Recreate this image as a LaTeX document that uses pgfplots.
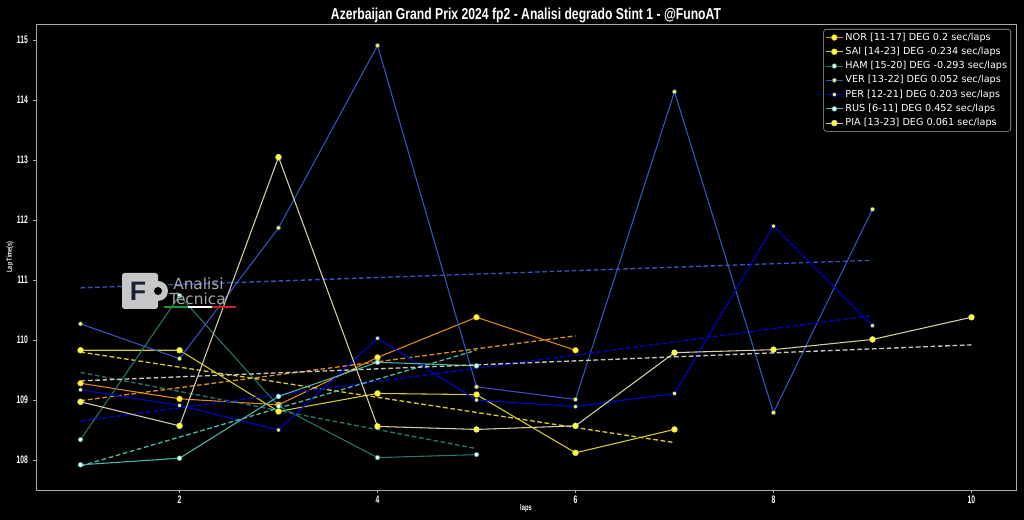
\documentclass[border=0pt]{standalone}
\usepackage{fontspec}
\setmainfont{DejaVu Sans}
\newfontfamily\condfont{Liberation Sans}
\usepackage{graphicx}
\usepackage{pgfplots}
\pgfplotsset{compat=1.18}
\definecolor{cNOR}{RGB}{222,140,32}
\definecolor{cSAI}{RGB}{214,204,44}
\definecolor{cHAM}{RGB}{38,118,108}
\definecolor{cVER}{RGB}{52,84,196}
\definecolor{cPER}{RGB}{0,0,210}
\definecolor{cRUS}{RGB}{72,184,168}
\definecolor{cPIA}{RGB}{214,206,166}
\definecolor{cPIAd}{RGB}{200,200,190}
\definecolor{myel}{RGB}{255,255,60}
\definecolor{mwht}{RGB}{230,255,250}
\definecolor{axgray}{RGB}{170,170,170}
\newcommand{\tk}[1]{\scalebox{0.62}[1]{\condfont\bfseries\fontsize{8.2}{9}\selectfont #1}}
\begin{document}
\begin{tikzpicture}
\fill[black] (0,0) rectangle (768pt,390pt);
\useasboundingbox (0,0) rectangle (768pt,390pt);
\begin{axis}[
  at={(27pt,22.5pt)}, anchor=south west,
  scale only axis, width=735pt, height=349.5pt,
  xmin=0.55, xmax=10.45, ymin=107.5, ymax=115.27,
  xtick={2,4,6,8,10}, ytick={108,109,110,111,112,113,114,115},
  axis background/.style={fill=black},
  axis line style={draw=axgray, line width=0.6pt},
  tick style={draw=axgray, line width=0.6pt},
  tick align=outside, major tick length=2.6pt, tick pos=left,
  xticklabel={\tk{\pgfmathprintnumber[assume math mode=true]{\tick}}},
  yticklabel={\tk{\pgfmathprintnumber[assume math mode=true]{\tick}}},
  tick label style={text=white},
  xticklabel style={yshift=1.5pt},
  xlabel={\scalebox{0.7}[1]{\condfont\bfseries\fontsize{6.2}{7}\selectfont laps}},
  xlabel style={at={(0.5,-0.0386)}, anchor=center, text=white, inner sep=0pt},
  ylabel={\scalebox{0.75}[1]{\condfont\bfseries\fontsize{5.5}{6}\selectfont Lap Time(s)}},
  ylabel style={at={(-0.0265,0.5)}, anchor=center, text=white, inner sep=0pt},
  legend style={at={(0.9949,0.9893)}, anchor=north east, fill=black, draw=axgray,
    text=white, font=\fontsize{7.25}{8}\selectfont, rounded corners=2pt,
    nodes={inner sep=1.5pt, text height=5.5pt, text depth=1.5pt}, row sep=0.7pt,
    inner sep=1.2pt},
  legend cell align=left,
  legend image code/.code={\draw[mark repeat=2,mark phase=2] plot coordinates {(0pt,0pt) (6.4pt,0pt) (12.8pt,0pt)};},
]
% NOR
\addplot[cNOR, line width=0.8pt, mark=*, mark size=2.2pt, mark options={fill=myel, draw=cNOR, line width=0.4pt, solid}]
  coordinates {(1,109.28) (2,109.02) (3,108.92) (4,109.71) (5,110.38) (6,109.83)};
\addlegendentry{NOR [11-17] DEG 0.2 sec/laps}
\addplot[cNOR, line width=1pt, dash pattern=on 3.5pt off 2pt, forget plot]
  coordinates {(1,108.99) (6,110.07)};
% SAI
\addplot[cSAI, line width=0.8pt, mark=*, mark size=2.2pt, mark options={fill=myel, draw=cSAI, line width=0.4pt, solid}]
  coordinates {(1,109.83) (2,109.83) (3,108.81) (4,109.11) (5,109.09) (6,108.12) (7,108.51)};
\addlegendentry{SAI [14-23] DEG -0.234 sec/laps}
\addplot[cSAI, line width=1pt, dash pattern=on 3.5pt off 2pt, forget plot]
  coordinates {(1,109.80) (7,108.29)};
% HAM
\addplot[cHAM, line width=0.8pt, mark=*, mark size=1.8pt, mark options={fill=mwht, draw=cHAM, line width=0.4pt, solid}]
  coordinates {(1,108.34) (2,110.74) (3,108.90) (4,108.04) (5,108.09)};
\addlegendentry{HAM [15-20] DEG -0.293 sec/laps}
\addplot[cHAM, line width=1pt, dash pattern=on 3.5pt off 2pt, forget plot]
  coordinates {(1,109.46) (5,108.19)};
% VER
\addplot[cVER, line width=0.8pt, mark=*, mark size=1.6pt, mark options={fill=myel, draw=cVER, line width=0.4pt, solid}]
  coordinates {(1,110.27) (2,109.69) (3,111.87) (4,114.91) (5,109.22) (6,109.01) (7,114.14) (8,108.79) (9,112.18)};
\addlegendentry{VER [13-22] DEG 0.052 sec/laps}
\addplot[cVER, line width=1pt, dash pattern=on 3.5pt off 2pt, forget plot]
  coordinates {(1,110.87) (9,111.33)};
% PER
\addplot[cPER, line width=0.8pt, mark=*, mark size=1.6pt, mark options={fill=myel, draw=cPER, line width=0.4pt, solid}]
  coordinates {(1,109.17) (2,108.91) (3,108.50) (4,110.03) (5,109.00) (6,108.89) (7,109.11) (8,111.90) (9,110.24)};
\addlegendentry{PER [12-21] DEG 0.203 sec/laps}
\addplot[cPER, line width=1pt, dash pattern=on 3.5pt off 2pt, forget plot]
  coordinates {(1,108.65) (9,110.41)};
% RUS
\addplot[cRUS, line width=0.8pt, mark=*, mark size=1.8pt, mark options={fill=mwht, draw=cRUS, line width=0.4pt, solid}]
  coordinates {(1,107.92) (2,108.03) (3,109.06) (4,109.63) (5,109.57)};
\addlegendentry{RUS [6-11] DEG 0.452 sec/laps}
\addplot[cRUS, line width=1pt, dash pattern=on 3.5pt off 2pt, forget plot]
  coordinates {(1,107.90) (5,109.83)};
% PIA
\addplot[cPIA, line width=0.8pt, mark=*, mark size=2.2pt, mark options={fill=myel, draw=cPIA, line width=0.4pt, solid}]
  coordinates {(1,108.97) (2,108.57) (3,113.05) (4,108.56) (5,108.51) (6,108.57) (7,109.79) (8,109.84) (9,110.01) (10,110.38)};
\addlegendentry{PIA [13-23] DEG 0.061 sec/laps}
\addplot[cPIAd, line width=1pt, dash pattern=on 3.5pt off 2pt, forget plot]
  coordinates {(1,109.32) (10,109.92)};
\end{axis}
\begin{scope}[x=0.75pt,y=-0.75pt,shift={(0pt,390pt)}]
  % title
  \node[text=white, inner sep=0pt, anchor=base] at (526,19.3)
    {\resizebox{292.5pt}{8.6pt}{\condfont\bfseries Azerbaijan Grand Prix 2024 fp2 - Analisi degrado Stint 1 - @FunoAT}};
  % watermark logo (decoration)
  \fill[rounded corners=2pt, color=black!22] (122,273) rectangle (158,309);
  \fill[color=black!22] (158,291) circle (10);
  \fill[color=black] (158,291) circle (4);
  \node[text={rgb,255:red,25;green,30;blue,50}, font=\condfont\bfseries\fontsize{20}{20}\selectfont, inner sep=0pt] at (138,291) {F};
  \node[text=black!35, font=\fontsize{11.5}{12}\selectfont, inner sep=0pt, anchor=west] at (173,284) {Analisi};
  \node[text=black!35, font=\fontsize{11.5}{12}\selectfont, inner sep=0pt, anchor=west] at (169,299) {Tecnica};
  \fill[color={rgb,255:red,30;green,150;blue,50}] (164,306) rectangle (188,308.5);
  \fill[color=white] (188,306) rectangle (212,308.5);
  \fill[color={rgb,255:red,210;green,30;blue,40}] (212,306) rectangle (236,308.5);
\end{scope}
\end{tikzpicture}
\end{document}
